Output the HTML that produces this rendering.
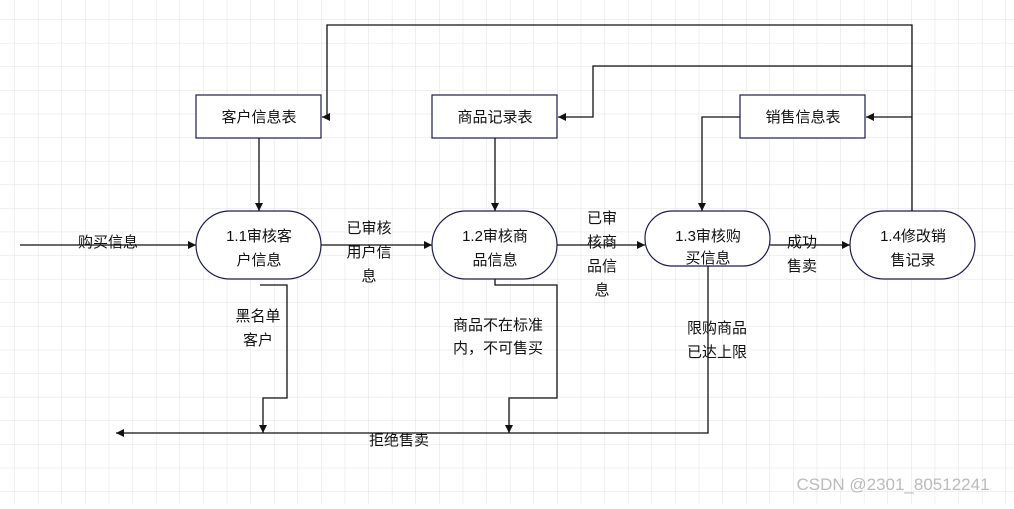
<!DOCTYPE html>
<html><head><meta charset="utf-8"><style>
body{margin:0;background:#fff}
svg text{font-family:"Liberation Sans","Noto Sans CJK SC",sans-serif;font-size:15px;fill:#111;text-anchor:middle}
</style></head><body>
<svg width="1014" height="504" viewBox="0 0 1014 504" xmlns="http://www.w3.org/2000/svg">
<defs>
<pattern id="g" x="14.3" y="19.3" width="23.6" height="23.6" patternUnits="userSpaceOnUse">
<path d="M0 0H23.6M0 0V23.6" stroke="#e0e0e0" stroke-width="1" fill="none"/>
</pattern>
<marker id="a" viewBox="0 0 10 10" refX="10" refY="5" markerWidth="8" markerHeight="8" orient="auto" markerUnits="userSpaceOnUse"><path d="M0 0L10 5L0 10z" fill="#111"/></marker>
</defs>
<rect width="1014" height="504" fill="url(#g)"/>
<g fill="#fff" stroke="#1a1f4a" stroke-width="1.2">
<rect x="196" y="95" width="125" height="43"/>
<rect x="432" y="95" width="125" height="43"/>
<rect x="740" y="95" width="125" height="43"/>
<rect x="196" y="211" width="125" height="68" rx="34"/>
<rect x="432" y="211" width="125" height="68" rx="34"/>
<rect x="645" y="211" width="125" height="55" rx="27"/>
<rect x="850" y="211" width="125" height="68" rx="34"/>
</g>
<g fill="none" stroke="#111" stroke-width="1.3">
<path d="M912 211V25H327V117H322" marker-end="url(#a)"/>
<path d="M912 66H593V117H558" marker-end="url(#a)"/>
<path d="M912 117H866" marker-end="url(#a)"/>
<path d="M740 117H702V211" marker-end="url(#a)"/>
<path d="M259 138V211" marker-end="url(#a)"/>
<path d="M495 138V211" marker-end="url(#a)"/>
<path d="M20 245H196" marker-end="url(#a)"/>
<path d="M321 245H432" marker-end="url(#a)"/>
<path d="M557 245H645" marker-end="url(#a)"/>
<path d="M770 245H850" marker-end="url(#a)"/>
<path d="M260 285H287V398H263V433" marker-end="url(#a)"/>
<path d="M495 279V285H557V398H509V433" marker-end="url(#a)"/>
<path d="M708 266V433H116" marker-end="url(#a)"/>
</g>
<text x="259" y="122">客户信息表</text>
<text x="495" y="122">商品记录表</text>
<text x="803" y="122">销售信息表</text>
<text x="259" y="241">1.1审核客</text><text x="259" y="265">户信息</text>
<text x="495" y="241">1.2审核商</text><text x="495" y="265">品信息</text>
<text x="708" y="241">1.3审核购</text><text x="708" y="263">买信息</text>
<text x="913" y="241">1.4修改销</text><text x="913" y="265">售记录</text>
<text x="108" y="247">购买信息</text>
<text x="369" y="233">已审核</text><text x="369" y="257">用户信</text><text x="369" y="281">息</text>
<text x="602" y="223">已审</text><text x="602" y="247">核商</text><text x="602" y="271">品信</text><text x="602" y="295">息</text>
<text x="802" y="247">成功</text><text x="802" y="271">售卖</text>
<text x="258" y="321">黑名单</text><text x="258" y="345">客户</text>
<text x="498" y="330">商品不在标准</text><text x="498" y="353">内，不可售买</text>
<text x="717" y="333">限购商品</text><text x="717" y="357">已达上限</text>
<text x="399" y="445">拒绝售卖</text>
<text x="893" y="490" style="fill:#bbb;font-size:17px">CSDN @2301_80512241</text>
</svg>
</body></html>
